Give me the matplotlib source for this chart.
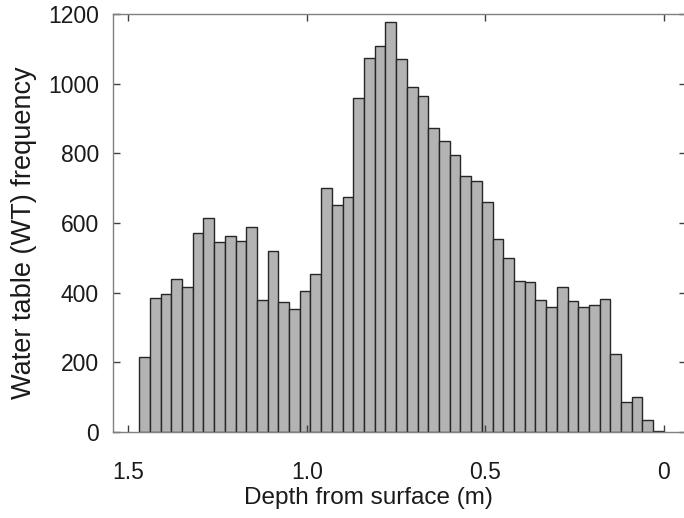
import numpy as np
import matplotlib
matplotlib.use("Agg")
import matplotlib.pyplot as plt

plt.rcParams['font.family'] = ['Liberation Sans', 'DejaVu Sans']

# Histogram counts, ordered from deepest bin (1.47-1.44 m) to shallowest (0.03-0 m)
bin_width = 0.03
counts = [215, 385, 395, 438, 415, 572, 613, 546, 563, 548,
          587, 378, 520, 373, 353, 405, 454, 699, 651, 675,
          960, 1075, 1108, 1176, 1070, 991, 965, 874, 834, 795,
          736, 719, 659, 554, 498, 434, 431, 379, 358, 416,
          376, 359, 365, 381, 224, 85, 100, 33, 3]
xticks = [1.5, 1.0, 0.5, 0]
xticklabels = ['1.5', '1.0', '0.5', '0']
yticks = [0, 200, 400, 600, 800, 1000, 1200]

n = len(counts)
edges = np.round(np.arange(n, -1, -1) * bin_width, 4)  # 1.47 ... 0
right_edges = edges[1:]

fig = plt.figure(figsize=(6.84, 5.18), dpi=100)
ax = fig.add_axes([112.7/684, 1 - 431.7/518, (685.5 - 112.7)/684, (431.7 - 14.1)/518])

ax.bar(right_edges, counts, width=bin_width, align='edge',
       color='#b3b3b3', edgecolor='#262626', linewidth=1.0)

ax.set_xlim(1.544, -0.0605)
ax.set_ylim(0, 1200)
ax.set_xticks(xticks)
ax.set_xticklabels(xticklabels)
ax.set_yticks(yticks)

spine_c = '#808080'
for s in ['left', 'top', 'bottom']:
    ax.spines[s].set_color(spine_c)
    ax.spines[s].set_linewidth(1.0)
ax.spines['right'].set_visible(False)

ax.tick_params(axis='both', direction='in', length=5, width=1.0, color='#404040',
               top=True, right=True, labelsize=16.5, labelcolor='#1a1a1a')
ax.tick_params(axis='x', pad=21)
ax.tick_params(axis='y', pad=10)

ax.set_xlabel('Depth from surface (m)', fontsize=17.5, color='#1a1a1a')
ax.set_ylabel('Water table (WT) frequency', fontsize=19.5, color='#1a1a1a')
ax.xaxis.set_label_coords(0.446, -0.133)
ax.yaxis.set_label_coords(-0.132, 0.476)

fig.savefig('out.png', dpi=100)
